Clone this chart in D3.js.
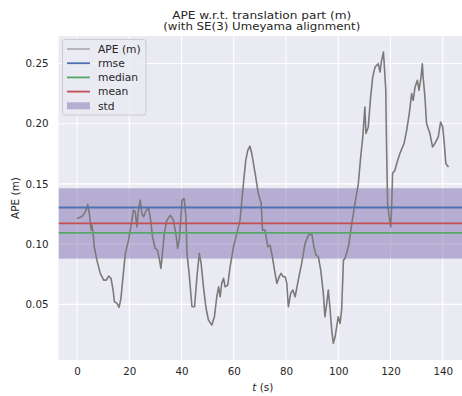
<!DOCTYPE html>
<html>
<head>
<meta charset="utf-8">
<script src="https://cdn.jsdelivr.net/npm/d3@7"></script>
<style>
  html, body { margin: 0; padding: 0; background: #ffffff; }
  svg { display: block; font-family: "DejaVu Sans", sans-serif; }
</style>
</head>
<body>
<svg id="chart" width="462" height="396"></svg>
<script>
// ---- data ----
const timeS = [0, 1.9, 2.8, 3.4, 4.1, 4.7, 5.4, 5.7, 6.1, 6.6, 7.6, 8.9, 10.2, 11.2, 12.1, 13.0, 13.8, 14.3, 15.3, 16.1, 16.8, 17.6, 18.5, 19.7, 20.8, 21.6, 22.3, 22.9, 23.6, 24.2, 24.8, 25.5, 26.5, 27.4, 28.0, 28.9, 29.9, 30.8, 31.6, 32.1, 32.5, 33.4, 34.4, 35.7, 36.9, 38.0, 38.5, 39.2, 40.2, 41.0, 41.7, 42.1, 42.9, 44.0, 45.0, 45.9, 46.8, 47.5, 48.4, 49.3, 50.3, 51.6, 52.6, 53.5, 54.2, 54.8, 55.4, 56.1, 56.7, 57.7, 58.6, 59.9, 61.2, 62.4, 63.7, 64.6, 65.4, 66.2, 66.9, 68.2, 69.4, 70.5, 71.0, 72.0, 73.0, 73.9, 74.8, 75.6, 76.5, 77.4, 78.1, 79.0, 79.7, 80.3, 80.9, 81.8, 82.6, 83.5, 84.7, 86.0, 87.3, 88.6, 89.9, 90.7, 91.5, 92.4, 93.3, 94.3, 94.9, 95.6, 96.2, 96.9, 97.5, 98.1, 98.8, 99.4, 100.0, 100.7, 101.3, 102.0, 102.6, 103.9, 105.2, 106.4, 107.7, 108.6, 109.4, 110.2, 110.6, 111.5, 112.4, 113.2, 114.1, 115.3, 116.0, 116.6, 117.3, 117.6, 118.2, 118.5, 118.9, 119.5, 120.1, 120.5, 120.8, 121.7, 122.4, 123.6, 125.2, 126.2, 127.2, 128.1, 128.7, 129.4, 130.3, 130.9, 131.7, 132.2, 132.5, 133.2, 133.8, 135.1, 136.1, 137.0, 138.3, 139.2, 140.0, 140.6, 141.2, 142.2];
const apeValues = [0.1213, 0.123, 0.1255, 0.128, 0.133, 0.1255, 0.1116, 0.1158, 0.110, 0.0978, 0.0867, 0.0757, 0.0701, 0.0701, 0.0735, 0.0716, 0.0619, 0.0522, 0.0508, 0.0475, 0.055, 0.0729, 0.0923, 0.1033, 0.1172, 0.1282, 0.1268, 0.1143, 0.1296, 0.1365, 0.1255, 0.1226, 0.1282, 0.1296, 0.1226, 0.106, 0.0964, 0.095, 0.0867, 0.0798, 0.0881, 0.1089, 0.1199, 0.124, 0.1199, 0.106, 0.0964, 0.104, 0.1365, 0.1379, 0.1226, 0.0923, 0.0757, 0.048, 0.048, 0.0729, 0.0923, 0.084, 0.0646, 0.048, 0.037, 0.0328, 0.0397, 0.0563, 0.0646, 0.0563, 0.0674, 0.0716, 0.0646, 0.066, 0.0812, 0.0978, 0.1089, 0.1199, 0.1503, 0.1697, 0.178, 0.1813, 0.1752, 0.1586, 0.142, 0.1337, 0.1116, 0.1116, 0.0978, 0.0992, 0.0895, 0.0784, 0.0674, 0.0729, 0.0757, 0.0729, 0.0729, 0.0674, 0.048, 0.0591, 0.0619, 0.0563, 0.0701, 0.084, 0.1006, 0.1075, 0.1083, 0.0978, 0.0909, 0.0895, 0.0784, 0.0591, 0.0397, 0.0508, 0.0619, 0.0453, 0.0287, 0.0177, 0.0231, 0.0314, 0.0397, 0.0342, 0.0453, 0.0867, 0.0881, 0.0978, 0.1172, 0.1337, 0.1503, 0.1724, 0.189, 0.2139, 0.1918, 0.1973, 0.2221, 0.2387, 0.247, 0.2498, 0.2429, 0.2526, 0.2594, 0.2498, 0.2277, 0.1807, 0.1337, 0.1226, 0.1143, 0.1337, 0.1586, 0.1614, 0.1669, 0.1752, 0.1835, 0.1945, 0.2084, 0.225, 0.2194, 0.2304, 0.236, 0.2277, 0.2387, 0.2498, 0.2387, 0.2221, 0.2001, 0.1918, 0.1807, 0.1835, 0.189, 0.2014, 0.1973, 0.1835, 0.1669, 0.1641];

const statNames = ["rmse", "median", "mean"];
const statValues = [0.1304, 0.1094, 0.1172];
const stdValue = 0.0292;

const xTicks = [0, 20, 40, 60, 80, 100, 120, 140];
const yTicks = [0.05, 0.10, 0.15, 0.20, 0.25];
const legendLabels = ["APE (m)", "rmse", "median", "mean", "std"];
const titleLines = ["APE w.r.t. translation part (m)", "(with SE(3) Umeyama alignment)"];

// ---- styling ----
const statColors = { rmse: "#4C72B0", median: "#55A868", mean: "#C44E52" };
const stdColor = "#8172B2";
const bg = "#EAEAF2";
const textColor = "#262626";

const svg = d3.select("#chart");
const plot = { left: 58.5, top: 36, right: 467, bottom: 360 };

const x = d3.scaleLinear().domain([-7.1, 149.3]).range([plot.left, plot.right]);
const y = d3.scaleLinear().domain([0.0038, 0.2728]).range([plot.bottom, plot.top]);

svg.append("defs").append("clipPath").attr("id", "clip")
  .append("rect").attr("x", plot.left).attr("y", plot.top)
  .attr("width", plot.right - plot.left).attr("height", plot.bottom - plot.top);

// background
svg.append("rect").attr("x", plot.left).attr("y", plot.top)
  .attr("width", plot.right - plot.left).attr("height", plot.bottom - plot.top)
  .attr("fill", bg);

const g = svg.append("g").attr("clip-path", "url(#clip)");

// grid
g.selectAll("line.vgrid").data(xTicks).enter().append("line")
  .attr("x1", d => x(d)).attr("x2", d => x(d))
  .attr("y1", plot.top).attr("y2", plot.bottom)
  .attr("stroke", "#fff").attr("stroke-width", 1.1);
g.selectAll("line.hgrid").data(yTicks).enter().append("line")
  .attr("y1", d => y(d)).attr("y2", d => y(d))
  .attr("x1", plot.left).attr("x2", plot.right)
  .attr("stroke", "#fff").attr("stroke-width", 1.1);

// std band around mean
const meanV = statValues[statNames.indexOf("mean")];
g.append("rect")
  .attr("x", plot.left).attr("width", plot.right - plot.left)
  .attr("y", y(meanV + stdValue)).attr("height", y(meanV - stdValue) - y(meanV + stdValue))
  .attr("fill", stdColor).attr("fill-opacity", 0.5);

// APE line
const pts = timeS.map((t, i) => [t, apeValues[i]]);
g.append("path").datum(pts)
  .attr("d", d3.line().x(d => x(d[0])).y(d => y(d[1])))
  .attr("fill", "none").attr("stroke", "#7a7a7a").attr("stroke-width", 1.6)
  .attr("stroke-linejoin", "round");

// stat lines
statNames.forEach((n, i) => {
  g.append("line")
    .attr("x1", plot.left).attr("x2", plot.right)
    .attr("y1", y(statValues[i])).attr("y2", y(statValues[i]))
    .attr("stroke", statColors[n]).attr("stroke-width", 1.8);
});

// axes (labels only, like seaborn darkgrid)
const xAxis = svg.append("g").attr("transform", `translate(0,${plot.bottom})`)
  .call(d3.axisBottom(x).tickValues(xTicks).tickSize(0).tickPadding(8).tickFormat(d3.format("d")));
const yAxis = svg.append("g").attr("transform", `translate(${plot.left},0)`)
  .call(d3.axisLeft(y).tickValues(yTicks).tickSize(0).tickPadding(10).tickFormat(d3.format(".2f")));
[xAxis, yAxis].forEach(a => {
  a.select(".domain").remove();
  a.selectAll("text").attr("font-size", 10.3).attr("fill", textColor)
    .attr("font-family", "DejaVu Sans, sans-serif");
});

// axis labels
const xl = svg.append("text").attr("x", (plot.left + plot.right) / 2).attr("y", 391)
  .attr("text-anchor", "middle").attr("font-size", 10.5).attr("fill", textColor);
xl.append("tspan").attr("font-style", "italic").text("t");
xl.append("tspan").text(" (s)");

svg.append("text").attr("transform", `translate(19,${(plot.top + plot.bottom) / 2}) rotate(-90)`)
  .attr("text-anchor", "middle").attr("font-size", 10.5).attr("fill", textColor)
  .text("APE (m)");

// title
const titleWidths = [179, 197];
titleLines.forEach((s, i) => {
  svg.append("text").attr("x", (plot.left + plot.right) / 2 - 1).attr("y", 18.5 + i * 11.5)
    .attr("text-anchor", "middle").attr("font-size", 11).attr("fill", textColor)
    .attr("textLength", titleWidths[i]).attr("lengthAdjust", "spacingAndGlyphs")
    .text(s);
});

// legend
const lg = svg.append("g");
lg.append("rect").attr("x", 62.5).attr("y", 39.5).attr("width", 83.5).attr("height", 75.5)
  .attr("rx", 2.5).attr("fill", bg).attr("fill-opacity", 0.8)
  .attr("stroke", "#cccccc").attr("stroke-width", 1);
const legendColors = ["#808080", statColors.rmse, statColors.median, statColors.mean, stdColor];
legendLabels.forEach((lab, i) => {
  const yy = 49 + i * 14.2;
  if (lab === "std") {
    lg.append("rect").attr("x", 67).attr("y", yy - 3.5).attr("width", 23).attr("height", 7)
      .attr("fill", stdColor).attr("fill-opacity", 0.5);
  } else {
    lg.append("line").attr("x1", 67).attr("x2", 90).attr("y1", yy).attr("y2", yy)
      .attr("stroke", legendColors[i]).attr("stroke-width", i === 0 ? 1 : 1.8);
  }
  lg.append("text").attr("x", 98).attr("y", yy + 3.8).attr("font-size", 10.7)
    .attr("fill", textColor).text(lab);
});
</script>
</body>
</html>
